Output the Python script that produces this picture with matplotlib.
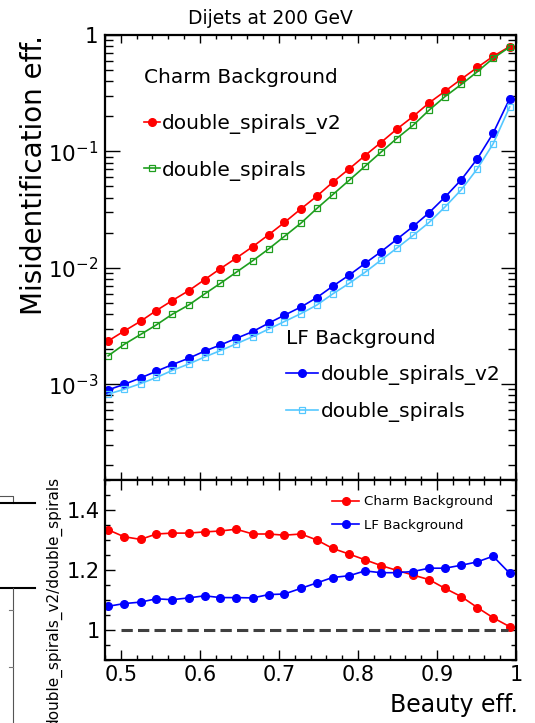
import numpy as np
import matplotlib.pyplot as plt
from matplotlib.lines import Line2D
from matplotlib.ticker import FixedLocator, MultipleLocator, FormatStrFormatter

# b-tagging efficiency points
beauty_eff = [0.484, 0.504, 0.525, 0.545, 0.565, 0.586, 0.606, 0.626, 0.646, 0.667,
              0.687, 0.707, 0.728, 0.748, 0.768, 0.789, 0.809, 0.829, 0.849, 0.870,
              0.890, 0.910, 0.931, 0.951, 0.971, 0.992]

# charm mistag rates
charm_v2 = [2.35e-3, 2.85e-3, 3.47e-3, 4.29e-3, 5.22e-3, 6.36e-3, 7.90e-3, 9.83e-3, 1.21e-2, 1.52e-2,
            1.92e-2, 2.45e-2, 3.21e-2, 4.12e-2, 5.42e-2, 7.08e-2, 9.21e-2, 0.119, 0.155, 0.200,
            0.261, 0.328, 0.419, 0.526, 0.655, 0.796]
charm_v1 = [1.75e-3, 2.19e-3, 2.67e-3, 3.23e-3, 3.98e-3, 4.79e-3, 5.95e-3, 7.35e-3, 9.14e-3, 1.15e-2,
            1.45e-2, 1.86e-2, 2.42e-2, 3.23e-2, 4.24e-2, 5.65e-2, 7.45e-2, 9.82e-2, 0.129, 0.168,
            0.226, 0.295, 0.377, 0.483, 0.630, 0.788]

# light flavour mistag rates
lf_v2 = [8.93e-4, 9.94e-4, 1.13e-3, 1.29e-3, 1.47e-3, 1.67e-3, 1.92e-3, 2.17e-3, 2.47e-3, 2.83e-3,
         3.34e-3, 3.91e-3, 4.60e-3, 5.54e-3, 6.93e-3, 8.65e-3, 1.09e-2, 1.37e-2, 1.75e-2, 2.27e-2,
         2.97e-2, 4.04e-2, 5.73e-2, 8.63e-2, 0.143, 0.284]
lf_v1 = [8.21e-4, 9.01e-4, 1.01e-3, 1.14e-3, 1.31e-3, 1.49e-3, 1.71e-3, 1.94e-3, 2.22e-3, 2.56e-3,
         2.97e-3, 3.45e-3, 4.04e-3, 4.78e-3, 5.95e-3, 7.35e-3, 9.14e-3, 1.16e-2, 1.47e-2, 1.90e-2,
         2.45e-2, 3.32e-2, 4.70e-2, 7.08e-2, 0.116, 0.241]

# ratio v2 / v1
ratio_charm = [1.334, 1.311, 1.302, 1.320, 1.323, 1.323, 1.327, 1.330, 1.336, 1.320,
               1.320, 1.316, 1.320, 1.300, 1.272, 1.253, 1.234, 1.215, 1.199, 1.183,
               1.168, 1.139, 1.111, 1.075, 1.041, 1.011]
ratio_lf = [1.079, 1.088, 1.093, 1.104, 1.101, 1.107, 1.114, 1.108, 1.108, 1.107,
            1.118, 1.120, 1.139, 1.157, 1.175, 1.181, 1.197, 1.191, 1.191, 1.195,
            1.206, 1.206, 1.216, 1.227, 1.246, 1.189]

RED = '#ff0000'
GREEN = '#1e9e1e'
BLUE = '#0000ff'
CYAN = '#55c8ff'

plt.rcParams['font.family'] = ['DejaVu Sans']

W, H = 535, 723
fig = plt.figure(figsize=(W / 100, H / 100), dpi=100)

def box(l, t, r, b):
    return [l / W, 1 - b / H, (r - l) / W, (b - t) / H]

ax = fig.add_axes(box(105, 35, 516, 480))
axr = fig.add_axes(box(105, 480, 516, 660))

# top panel
ax.plot(beauty_eff, charm_v2, color=RED, lw=1.2, marker='o', ms=5.5, mec=RED,
        label='double_spirals_v2')
ax.plot(beauty_eff, charm_v1, color=GREEN, lw=1.2, marker='s', ms=5, mfc='none', mec=GREEN,
        mew=0.9, label='double_spirals')
l3, = ax.plot(beauty_eff, lf_v2, color=BLUE, lw=1.2, marker='o', ms=5.5, mec=BLUE,
              label='double_spirals_v2')
l4, = ax.plot(beauty_eff, lf_v1, color=CYAN, lw=1.2, marker='s', ms=5, mfc='none', mec=CYAN,
              mew=0.9, label='double_spirals')
ax.set_yscale('log')
ax.set_xlim(0.48, 1.0)
ax.set_ylim(1.5e-4, 1.0)
ax.yaxis.set_major_locator(FixedLocator([1e-3, 1e-2, 1e-1, 1]))
ax.set_yticklabels(['$10^{-3}$', '$10^{-2}$', '$10^{-1}$', '1'])
ax.xaxis.set_major_locator(MultipleLocator(0.1))
ax.xaxis.set_minor_locator(MultipleLocator(0.02))
ax.tick_params(axis='x', which='both', labelbottom=False)
ax.tick_params(which='both', direction='in', top=True, right=True, width=1.0)
ax.tick_params(axis='x', which='major', length=6)
ax.tick_params(axis='x', which='minor', length=3)
ax.tick_params(axis='y', which='major', length=11, labelsize=15.5, pad=5)
ax.tick_params(axis='y', which='minor', length=6)
for s in ax.spines.values():
    s.set_linewidth(1.6)

h1, lab1 = ax.get_legend_handles_labels()
leg1 = ax.legend(h1[:2], lab1[:2], title='Charm Background', loc='upper left',
                 bbox_to_anchor=(0.095, 0.925), frameon=False, fontsize=14.5, title_fontsize=14.5,
                 alignment='left', labelspacing=1.32, handlelength=0.8, handletextpad=0.1,
                 borderpad=0, borderaxespad=0)
ax.add_artist(leg1)
ax.legend([l3, l4], ['double_spirals_v2', 'double_spirals'], title='LF Background',
          loc='upper left', bbox_to_anchor=(0.44, 0.34), frameon=False, fontsize=14.5,
          title_fontsize=14.5, alignment='left', labelspacing=0.86, handlelength=1.6,
          handletextpad=0.15, borderpad=0, borderaxespad=0)

# ratio panel
axr.plot(beauty_eff, ratio_charm, color=RED, lw=1.2, marker='o', ms=5.5, label='Charm Background')
axr.plot(beauty_eff, ratio_lf, color=BLUE, lw=1.2, marker='o', ms=5.5, label='LF Background')
ref, = axr.plot([0.5, 0.99], [1, 1], color='#404040', lw=2.2)
ref.set_dashes((3.7, 1.7))
axr.set_xlim(0.48, 1.0)
axr.set_ylim(0.9, 1.5)
axr.xaxis.set_major_locator(MultipleLocator(0.1))
axr.xaxis.set_minor_locator(MultipleLocator(0.02))
axr.yaxis.set_major_locator(MultipleLocator(0.2))
axr.yaxis.set_minor_locator(MultipleLocator(0.05))
axr.xaxis.set_major_formatter(FormatStrFormatter('%g'))
axr.yaxis.set_major_formatter(FormatStrFormatter('%g'))
axr.tick_params(which='both', direction='in', top=True, right=True, width=1.0, labelsize=15)
axr.tick_params(which='major', length=7)
axr.tick_params(which='minor', length=3.5)
for s in axr.spines.values():
    s.set_linewidth(1.6)
axr.legend(loc='upper left', bbox_to_anchor=(0.553, 0.915), frameon=False, fontsize=9.6,
           labelspacing=0.8, handlelength=2.0, handletextpad=0.35, borderpad=0, borderaxespad=0)

# titles
fig.text(270 / W, 1 - 19 / H, 'Dijets at 200 GeV', ha='center', va='center', fontsize=13.5)
fig.text(34 / W, 1 - 35 / H, 'Misidentification eff.', rotation=90, ha='center', va='top',
         fontsize=20)
fig.text(518 / W, 1 - 705 / H, 'Beauty eff.', ha='right', va='center', fontsize=17)
fig.text(54 / W, 1 - 477 / H, 'double_spirals_v2/double_spirals', rotation=90, ha='center',
         va='top', fontsize=11)

# leftover frame pieces at the lower-left edge
def seg(xs, ys, c='black', lw=1.5):
    fig.add_artist(Line2D([x / W for x in xs], [1 - y / H for y in ys], color=c, lw=lw))

seg([0, 12.7, 12.7], [496, 496, 503], c='#555555', lw=0.8)
seg([0, 35], [503, 503])
seg([0, 35], [588, 588])
seg([12.7, 12.7], [588, 723], c='#555555', lw=0.8)
seg([9, 12.7], [610, 610], c='#777777', lw=0.8)
seg([9, 12.7], [667, 667], c='#777777', lw=0.8)

fig.savefig('out.png', dpi=100)
